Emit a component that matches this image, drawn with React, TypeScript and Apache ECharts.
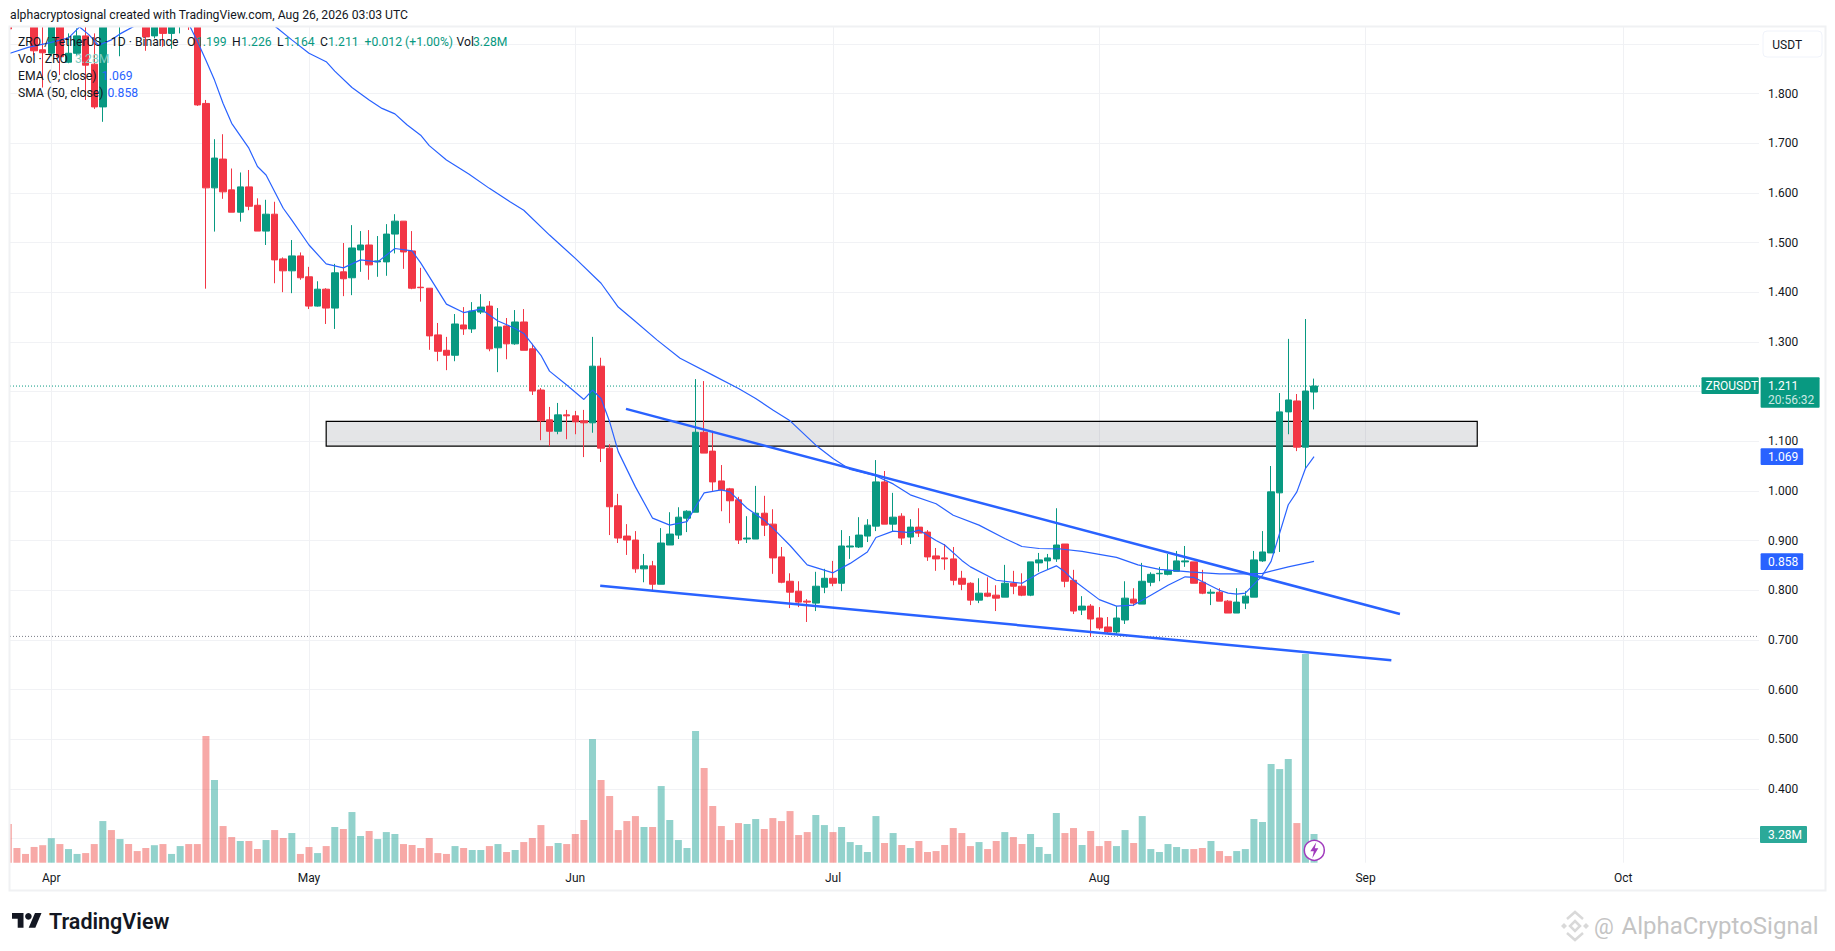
import React, { useEffect, useRef } from "react";
import * as echarts from "echarts";

// Day index 0 = 27 Mar; one candle per day. [open, close, low, high]
const candles: number[][] = [
  [1.98,1.93,1.90,2.02],[2.02,1.97,1.95,2.05],[1.99,1.96,1.94,2.02],[1.96,1.886,1.877,1.99],[1.888,1.882,1.812,1.95],
  [1.881,1.96,1.875,2.0],[1.96,1.874,1.837,1.99],[1.863,1.881,1.861,1.921],[1.881,1.916,1.877,1.931],[1.916,1.857,1.787,1.936],
  [1.859,1.773,1.769,1.921],[1.773,1.97,1.743,2.0],[2.02,1.98,1.95,2.05],[1.95,2.0,1.875,2.03],[2.0,1.96,1.945,2.03],
  [1.98,1.95,1.94,2.0],[1.965,1.914,1.886,1.99],[1.916,1.96,1.911,1.98],[1.96,1.921,1.894,1.98],[1.921,1.955,1.89,1.97],
  [1.95,1.97,1.921,1.99],[1.99,1.96,1.928,2.01],[1.97,1.777,1.775,1.99],[1.78,1.61,1.407,1.787],[1.61,1.67,1.522,1.708],
  [1.668,1.602,1.588,1.718],[1.606,1.561,1.561,1.649],[1.561,1.612,1.542,1.641],[1.612,1.573,1.565,1.646],[1.575,1.523,1.523,1.589],
  [1.523,1.557,1.495,1.586],[1.557,1.465,1.418,1.582],[1.467,1.443,1.4,1.47],[1.443,1.473,1.398,1.505],[1.473,1.429,1.425,1.48],
  [1.431,1.372,1.366,1.451],[1.372,1.406,1.371,1.422],[1.406,1.368,1.336,1.408],[1.368,1.439,1.326,1.457],[1.441,1.427,1.392,1.499],
  [1.429,1.489,1.394,1.535],[1.485,1.495,1.441,1.523],[1.495,1.455,1.425,1.525],[1.461,1.463,1.431,1.513],[1.461,1.517,1.433,1.537],
  [1.517,1.543,1.478,1.557],[1.543,1.481,1.447,1.543],[1.483,1.408,1.406,1.523],[1.41,1.409,1.381,1.449],[1.408,1.312,1.284,1.408],
  [1.314,1.281,1.261,1.338],[1.283,1.273,1.243,1.31],[1.273,1.336,1.261,1.356],[1.334,1.326,1.314,1.37],[1.326,1.362,1.318,1.38],
  [1.36,1.37,1.356,1.396],[1.372,1.286,1.281,1.382],[1.288,1.33,1.239,1.368],[1.332,1.296,1.265,1.348],[1.296,1.34,1.294,1.364],
  [1.34,1.283,1.283,1.366],[1.286,1.201,1.193,1.296],[1.203,1.141,1.102,1.207],[1.143,1.12,1.09,1.169],[1.12,1.153,1.114,1.177],
  [1.153,1.151,1.104,1.163],[1.151,1.139,1.114,1.161],[1.141,1.137,1.068,1.163],[1.137,1.251,1.117,1.31],[1.251,1.086,1.058,1.268],
  [1.086,0.968,0.911,1.094],[0.97,0.905,0.895,0.994],[0.909,0.901,0.871,0.933],[0.901,0.843,0.835,0.919],[0.843,0.849,0.816,0.873],
  [0.849,0.812,0.798,0.859],[0.812,0.895,0.812,0.925],[0.891,0.913,0.891,0.957],[0.911,0.947,0.903,0.967],[0.945,0.959,0.917,0.961],
  [0.957,1.118,0.957,1.225],[1.118,1.076,1.076,1.221],[1.08,1.018,1.0,1.121],[1.02,1.002,0.959,1.052],[1.004,0.98,0.935,1.006],
  [0.982,0.901,0.893,0.988],[0.903,0.905,0.895,0.949],[0.903,0.955,0.903,1.01],[0.955,0.931,0.909,0.99],[0.933,0.865,0.833,0.963],
  [0.867,0.816,0.814,0.887],[0.818,0.796,0.764,0.834],[0.798,0.776,0.766,0.818],[0.778,0.776,0.736,0.782],[0.774,0.808,0.758,0.837],
  [0.806,0.824,0.794,0.843],[0.824,0.814,0.808,0.859],[0.814,0.889,0.798,0.921],[0.887,0.889,0.863,0.909],[0.887,0.911,0.885,0.947],
  [0.909,0.931,0.897,0.943],[0.929,1.018,0.919,1.062],[1.018,0.933,0.933,1.04],[0.933,0.947,0.919,0.996],[0.949,0.905,0.891,0.955],
  [0.907,0.927,0.893,0.943],[0.927,0.915,0.907,0.965],[0.917,0.867,0.859,0.921],[0.869,0.863,0.839,0.885],[0.865,0.863,0.841,0.893],
  [0.863,0.82,0.81,0.887],[0.824,0.812,0.8,0.839],[0.814,0.78,0.77,0.816],[0.78,0.794,0.774,0.824],[0.794,0.788,0.786,0.826],
  [0.79,0.784,0.758,0.81],[0.786,0.814,0.786,0.851],[0.814,0.808,0.792,0.839],[0.808,0.79,0.788,0.834],[0.79,0.857,0.788,0.857],
  [0.855,0.861,0.837,0.875],[0.859,0.865,0.841,0.873],[0.863,0.891,0.857,0.965],[0.893,0.818,0.806,0.893],[0.82,0.758,0.752,0.841],
  [0.76,0.768,0.75,0.788],[0.768,0.742,0.706,0.772],[0.744,0.724,0.72,0.766],[0.726,0.716,0.712,0.746],[0.716,0.744,0.712,0.768],
  [0.74,0.784,0.732,0.818],[0.782,0.774,0.768,0.804],[0.772,0.818,0.772,0.855],[0.816,0.832,0.808,0.836],[0.833,0.834,0.818,0.847],
  [0.832,0.84,0.83,0.873],[0.838,0.859,0.838,0.879],[0.857,0.859,0.847,0.889],[0.857,0.814,0.814,0.857],[0.816,0.794,0.792,0.841],
  [0.794,0.796,0.77,0.802],[0.796,0.778,0.778,0.804],[0.778,0.754,0.754,0.78],[0.754,0.776,0.754,0.804],[0.774,0.788,0.762,0.798],
  [0.786,0.861,0.786,0.879],[0.859,0.877,0.857,0.919],[0.875,0.998,0.875,1.05],[0.996,1.159,0.877,1.197],[1.159,1.183,1.114,1.306],
  [1.181,1.088,1.08,1.195],[1.088,1.201,1.046,1.346],[1.199,1.211,1.164,1.226],
];

// Volume per day, millions
const volumes: number[] = [
  4.42,1.68,1.0,1.8,2.0,2.8,2.13,1.56,1.0,1.1,2.13,4.76,3.73,2.7,2.13,1.33,1.68,2.0,2.13,1.0,
  1.9,2.13,2.13,14.48,9.45,4.19,2.93,2.48,2.48,1.56,2.59,3.73,2.82,3.39,1.0,1.79,1.1,1.9,4.08,3.85,
  5.79,3.05,3.62,2.7,3.5,3.28,2.13,2.02,1.68,2.82,1.1,1.0,1.9,1.68,1.45,1.45,1.9,2.13,1.22,1.45,
  2.36,2.82,4.3,1.9,2.25,2.13,3.28,4.88,14.13,9.45,7.62,3.73,4.76,5.33,4.08,4.08,8.76,4.88,2.59,1.68,
  15.05,10.82,6.48,4.19,2.59,4.53,4.42,4.99,3.85,5.1,4.76,5.9,3.16,3.5,5.45,4.3,3.5,4.08,2.36,2.02,
  1.22,5.33,2.25,3.39,2.02,1.68,2.48,1.22,1.33,2.02,3.96,3.39,1.9,2.36,1.56,2.48,3.5,2.93,2.13,3.28,
  1.79,1.0,5.68,3.39,3.96,2.02,3.62,1.9,2.48,1.9,3.73,2.25,5.33,1.56,1.22,2.13,1.79,1.56,1.56,1.68,
  2.48,1.33,0.76,1.33,1.56,4.99,4.65,11.28,10.7,11.85,4.53,23.85,3.28,
];

const emaDays = [0.2,2.3,5,7,8.3,9.4,10.5,12,13,14.7,16,18,20,21,22,23,24,25,26,28,29,30,32,33,35,37,39,41,43,45,47,48,51,53,55,57,59,60,62,63,65,67,68,69,70,71,73,75,77,79,80,81,83,84,86,88,89,91,93,96,98,100,101,103,105,106,108,109,111,112,115,118,120,122,123,124,127,129,131,133,135,137,138,141,142,143,144,146,147,149,150,151,152];
const emaValues = [1.881,1.893,1.903,1.912,1.934,1.918,1.897,1.908,1.92,1.936,1.955,1.962,1.96,1.94,1.905,1.867,1.827,1.78,1.74,1.69,1.653,1.636,1.569,1.545,1.495,1.457,1.449,1.465,1.461,1.488,1.483,1.459,1.376,1.359,1.366,1.342,1.327,1.317,1.273,1.241,1.213,1.184,1.203,1.186,1.139,1.079,1.008,0.945,0.931,0.938,0.968,0.996,1.002,0.998,0.965,0.941,0.925,0.89,0.851,0.835,0.854,0.877,0.906,0.919,0.916,0.921,0.9,0.891,0.86,0.847,0.82,0.814,0.834,0.849,0.837,0.82,0.781,0.768,0.77,0.79,0.81,0.827,0.826,0.8,0.794,0.792,0.794,0.83,0.858,0.972,0.998,1.045,1.069];

const smaDays = [31,33,35,37,38,40,42,43.5,45,46.4,48,49,51,53.6,56,58.4,60,63,66,69,71,72.8,75.5,78.2,82,85,87,89,91,94,96,98,101,103,105,108,110,113,116,118,120,122.5,125,129,131.5,134,137.5,141,144,146,149,152];
const smaValues = [1.936,1.908,1.881,1.864,1.845,1.812,1.787,1.77,1.759,1.737,1.716,1.695,1.666,1.638,1.609,1.582,1.565,1.515,1.468,1.418,1.37,1.344,1.304,1.267,1.233,1.206,1.186,1.163,1.141,1.092,1.065,1.043,1.03,1.014,0.992,0.974,0.951,0.931,0.904,0.888,0.884,0.883,0.878,0.866,0.851,0.842,0.837,0.833,0.833,0.834,0.847,0.858];

const upperTrendDays = [71.9, 162];
const upperTrendValues = [1.165, 0.752];
const lowerTrendDays = [68.9, 161];
const lowerTrendValues = [0.809, 0.659];
const zoneDays = [37, 171];
const zoneValues = [1.09, 1.14];
const lowLineValue = 0.707;

const monthDays = [5, 35, 66, 96, 127, 158, 188];
const monthNames = ["Apr", "May", "Jun", "Jul", "Aug", "Sep", "Oct"];
const priceGrid = [0.3,0.4,0.5,0.6,0.7,0.8,0.9,1.0,1.1,1.2,1.3,1.4,1.5,1.6,1.7,1.8,1.9];
const priceLabels = [0.4,0.5,0.6,0.7,0.8,0.9,1.0,1.1,1.3,1.4,1.5,1.6,1.7,1.8];

const FONT = "Roboto, sans-serif";
const UP = "#089981";
const DOWN = "#F23645";
const BLUE = "#2962FF";
const INK = "#131722";
const LEGEND = `12.2px ${FONT}`;

function txt(x: number, y: number, text: string, fill: string = INK, extra: any = {}) {
  return {
    type: "text", x, y, z: 100, silent: true,
    style: { text, fill, font: extra.font || `12px ${FONT}`, textAlign: extra.align || "left", textVerticalAlign: "middle" },
  };
}
function leg(x: number, y: number, text: string, fill: string = INK) {
  return txt(x, y, text, fill, { font: LEGEND });
}
function box(x: number, y: number, w: number, h: number, fill: string, r: number = 0) {
  return { type: "rect", z: 99, silent: true, shape: { x, y, width: w, height: h, r }, style: { fill } };
}
function hLine(days: number[], value: number, color: string, name: string) {
  return {
    type: "line", name, symbol: "none", z: 3, silent: true,
    data: days.map((d) => [d, value]),
    lineStyle: { color, width: 1, type: [1, 2] },
  };
}
function seg(days: number[], vals: number[], width: number, name: string, z: number) {
  return {
    type: "line", name, symbol: "none", z, silent: true,
    data: days.map((d, i) => [d, vals[i]]),
    lineStyle: { color: BLUE, width },
  };
}

export default function App() {
  const ref = useRef<HTMLDivElement>(null);
  useEffect(() => {
    document.body.style.margin = "0";
    document.body.style.background = "#fff";
    const chart = echarts.init(ref.current!, undefined, { renderer: "svg" });
    const xMin = 0.192, xMax = 203.8;
    const last = candles[candles.length - 1];
    const ema = emaValues[emaValues.length - 1].toFixed(3);
    const sma = smaValues[smaValues.length - 1].toFixed(3);
    const vol = volumes[volumes.length - 1].toFixed(2) + "M";
    const close = last[1].toFixed(3);

    const graphic: any[] = [
      // Masks: marks off the top and left of the pane stop at its edge
      { type: "rect", z: 50, silent: true, shape: { x: 0, y: 0, width: 1835, height: 26 }, style: { fill: "#fff" } },
      { type: "rect", z: 50, silent: true, shape: { x: 0, y: 0, width: 9, height: 951 }, style: { fill: "#fff" } },
      { type: "rect", z: 51, silent: true, shape: { x: 9.5, y: 26.5, width: 1816, height: 864 }, style: { fill: "none", stroke: "#F0F1F3", lineWidth: 2 } },
      leg(10, 15, "alphacryptosignal created with TradingView.com, Aug 26, 2026 03:03 UTC"),
      leg(18, 41.5, "ZRO / TetherUS · 1D · Binance"),
      leg(187, 41.5, "O"), leg(196, 41.5, last[0].toFixed(3), UP),
      leg(232, 41.5, "H"), leg(241, 41.5, last[3].toFixed(3), UP),
      leg(277, 41.5, "L"), leg(284, 41.5, last[2].toFixed(3), UP),
      leg(320, 41.5, "C"), leg(328, 41.5, close, UP),
      leg(364.5, 41.5, "+0.012 (+1.00%)", UP),
      leg(456.5, 41.5, "Vol"), leg(473, 41.5, vol, UP),
      leg(18, 58.7, "Vol · ZRO"), leg(75, 58.7, vol, "#7FCCC2"),
      leg(18, 76, "EMA (9, close)"), leg(102, 76, ema, BLUE),
      leg(18, 92.7, "SMA (50, close)"), leg(107.5, 92.7, sma, BLUE),
      { type: "rect", z: 99, silent: true, shape: { x: 1763, y: 31, width: 59, height: 26, r: 4 }, style: { fill: "#fff", stroke: "#F0F3FA", lineWidth: 1 } },
      txt(1772.3, 44.5, "USDT"),
      box(1701.5, 377.3, 57.3, 16.7, UP, 1),
      txt(1705.5, 386, "ZROUSDT", "#fff"),
      box(1760.6, 377.3, 59, 30.4, UP, 1),
      txt(1768, 386, close, "#fff"),
      txt(1768, 400, "20:56:32", "rgba(255,255,255,0.8)"),
      box(1760.6, 448.3, 42.6, 16.7, BLUE, 1),
      txt(1768, 457, ema, "#fff"),
      box(1760.6, 553.3, 42.6, 16.7, BLUE, 1),
      txt(1768, 562, sma, "#fff"),
      box(1760, 826, 47, 17, "#2BA999", 1),
      txt(1768, 834.5, vol, "#fff"),
      { type: "circle", z: 100, silent: true, shape: { cx: 1314.3, cy: 850.3, r: 10 }, style: { fill: "#fff", stroke: "#A13BBD", lineWidth: 1.5 } },
      { type: "polygon", z: 101, silent: true, shape: { points: [[1316.3,842.3],[1310.3,851.3],[1313.8,851.3],[1312.3,858.3],[1318.3,848.3],[1314.8,848.3]] }, style: { fill: "#A13BBD" } },
      // TradingView mark
      { type: "polygon", z: 100, silent: true, shape: { points: [[12,913],[23.5,913],[23.5,927.8],[17.7,927.8],[17.7,918.8],[12,918.8]] }, style: { fill: INK } },
      { type: "circle", z: 100, silent: true, shape: { cx: 28.4, cy: 916.3, r: 3.3 }, style: { fill: INK } },
      { type: "polygon", z: 100, silent: true, shape: { points: [[35,913],[41.5,913],[35.3,927.8],[28.7,927.8]] }, style: { fill: INK } },
      txt(49, 921, "TradingView", INK, { font: `600 21.5px ${FONT}` }),
      // Watermark
      { type: "polyline", z: 100, silent: true, shape: { points: [[1567,919],[1575,912],[1583,919]] }, style: { fill: "none", stroke: "#D9D9D9", lineWidth: 2.5 } },
      { type: "polyline", z: 100, silent: true, shape: { points: [[1567,933],[1575,940],[1583,933]] }, style: { fill: "none", stroke: "#D9D9D9", lineWidth: 2.5 } },
      { type: "polygon", z: 100, silent: true, shape: { points: [[1575,921],[1580,926],[1575,931],[1570,926]] }, style: { fill: "none", stroke: "#D9D9D9", lineWidth: 2.5 } },
      { type: "polygon", z: 100, silent: true, shape: { points: [[1564,923],[1567,926],[1564,929],[1561,926]] }, style: { fill: "#D9D9D9" } },
      { type: "polygon", z: 100, silent: true, shape: { points: [[1586,923],[1589,926],[1586,929],[1583,926]] }, style: { fill: "#D9D9D9" } },
      txt(1594, 926, "@", "#C4C4C4", { font: `22px ${FONT}` }),
      txt(1621.5, 926, "AlphaCryptoSignal", "#C4C4C4", { font: `24px ${FONT}` }),
    ];

    chart.setOption({
      animation: false,
      backgroundColor: "#fff",
      textStyle: { fontFamily: FONT },
      grid: { left: 10, right: 1835 - 1759, top: 27, height: 862.7 - 27, containLabel: false },
      xAxis: {
        type: "value", min: xMin, max: xMax,
        axisLine: { show: false },
        axisTick: { show: false, customValues: monthDays },
        splitLine: { show: true, lineStyle: { color: "#F0F1F4", width: 1 } },
        axisLabel: {
          customValues: monthDays, color: INK, fontSize: 12, fontFamily: FONT, margin: 9,
          formatter: (v: number) => monthNames[monthDays.indexOf(v)] ?? "",
        },
      },
      yAxis: [
        {
          type: "value", position: "right", scale: true,
          min: 1.8 - (862.7 - 93.5) / 496.7, max: 1.8 + (93.5 - 27) / 496.7,
          axisLine: { show: false },
          axisTick: { show: false, customValues: priceGrid },
          splitLine: { show: true, lineStyle: { color: "#F1F2F5", width: 1 } },
          axisLabel: {
            customValues: priceLabels, color: INK, fontSize: 12, fontFamily: FONT, margin: 9,
            formatter: (v: number) => v.toFixed(3),
          },
        },
        { type: "value", min: 0, max: (862.7 - 27) / 8.75, show: false },
      ],
      series: [
        {
          type: "bar", name: "Vol", yAxisIndex: 1, barWidth: 7, z: 2, silent: true,
          data: volumes.map((v, i) => ({
            value: [i, v],
            itemStyle: { color: candles[i][1] >= candles[i][0] ? "rgba(38,166,154,0.5)" : "rgba(239,83,80,0.5)" },
          })),
        },
        {
          type: "line", name: "Zone", symbol: "none", data: [], silent: true,
          markArea: {
            silent: true,
            itemStyle: { color: "rgba(120,123,134,0.2)", borderColor: "#000", borderWidth: 1.2 },
            data: [[{ xAxis: zoneDays[0], yAxis: zoneValues[1] }, { xAxis: zoneDays[1], yAxis: zoneValues[0] }]],
          },
        },
        hLine([xMin, xMax], last[1], UP, "Last"),
        hLine([xMin, xMax], lowLineValue, "#787B86", "Low"),
        {
          type: "candlestick", name: "ZROUSDT", barWidth: 7, z: 4, silent: true,
          encode: { x: 0, y: [1, 2, 3, 4] },
          data: candles.map((c, i) => [i, c[0], c[1], c[2], c[3]]),
          itemStyle: { color: UP, color0: DOWN, borderColor: UP, borderColor0: DOWN, borderWidth: 1 },
        },
        seg(emaDays, emaValues, 1.2, "EMA", 5),
        seg(smaDays, smaValues, 1.2, "SMA", 5),
        seg(upperTrendDays, upperTrendValues, 2.5, "Upper", 6),
        seg(lowerTrendDays, lowerTrendValues, 2.5, "Lower", 6),
      ],
      graphic: { elements: graphic },
    });
    return () => chart.dispose();
  }, []);
  return <div ref={ref} style={{ position: "fixed", left: 0, top: 0, width: 1835, height: 951 }} />;
}
